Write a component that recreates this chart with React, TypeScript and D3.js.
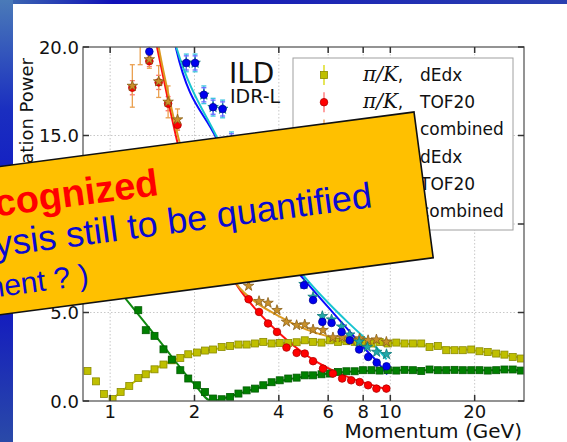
import React from 'react';
import * as d3 from 'd3';

type Pt = [number, number, number?];

const xTicks = [1, 2, 4, 6, 8, 10, 20];
const yTicks = [0, 5, 10, 15, 20];

// measured points: [momentum (GeV), separation power, error]
const pkDedx: Pt[] = [
  [0.83, 1.7], [0.89, 1.11], [0.95, 0.4], [1.02, 0.11], [1.09, 0.51], [1.17, 0.85], [1.26, 1.3],
  [1.34, 1.51], [1.44, 1.79], [1.55, 2.06], [1.66, 2.3], [1.78, 2.43], [1.9, 2.64], [2.04, 2.74],
  [2.18, 2.85], [2.33, 2.91], [2.5, 3.05], [2.68, 3.11], [2.87, 3.19], [3.07, 3.19], [3.29, 3.25],
  [3.52, 3.34], [3.77, 3.25], [4.03, 3.28], [4.32, 3.28], [4.63, 3.32], [4.95, 3.43], [5.3, 3.34],
  [5.68, 3.3], [6.08, 3.43], [6.51, 3.34], [6.97, 3.38], [7.46, 3.34], [7.99, 3.3], [8.56, 3.25],
  [9.16, 3.34], [9.8, 3.25], [10.5, 3.3], [11.24, 3.25], [12.04, 3.25], [12.89, 3.25], [13.8, 3.05],
  [14.78, 3.11], [15.83, 2.87], [16.95, 2.87], [18.14, 2.87], [19.44, 2.91], [20.8, 2.81],
  [22.27, 2.77], [23.86, 2.68], [25.54, 2.62], [27.35, 2.49], [29.29, 2.4],
];
const kpDedx: Pt[] = [
  [1.26, 5.13], [1.34, 4.0], [1.44, 3.68], [1.55, 2.92], [1.66, 2.34], [1.78, 1.74], [1.9, 1.27],
  [2.04, 0.89], [2.18, 0.51], [2.33, 0.14], [2.5, 0.1], [2.68, 0.23], [2.87, 0.42], [3.07, 0.6],
  [3.29, 0.7], [3.52, 0.89], [3.77, 1.06], [4.03, 1.17], [4.32, 1.27], [4.63, 1.32], [4.95, 1.45],
  [5.3, 1.45], [5.68, 1.51], [6.08, 1.55], [6.51, 1.64], [6.97, 1.68], [7.46, 1.68], [7.99, 1.74],
  [8.56, 1.74], [9.16, 1.72], [9.8, 1.74], [10.5, 1.72], [11.24, 1.76], [12.04, 1.74], [12.89, 1.7],
  [13.8, 1.78], [14.78, 1.74], [15.83, 1.74], [16.95, 1.76], [18.14, 1.74], [19.44, 1.74],
  [20.8, 1.74], [22.27, 1.72], [23.86, 1.74], [25.54, 1.78], [27.35, 1.78], [29.29, 1.72],
];
const pkTof: Pt[] = [
  [1.2, 17.7, 0.4], [1.38, 19.2, 0.3], [1.49, 18.0, 0.4], [1.61, 16.8, 0.4], [1.74, 15.6, 0.3],
  [3.12, 5.75], [3.4, 5.03], [3.66, 4.38], [3.94, 3.9], [4.26, 3.02], [4.63, 2.72], [4.95, 2.68],
  [5.3, 2.25], [5.75, 1.83], [6.24, 1.55], [6.73, 1.27], [7.25, 1.17], [7.77, 1.07], [8.33, 0.89],
  [8.92, 0.7], [9.68, 0.7],
];
const pkComb: Pt[] = [
  [1.2, 17.8, 1.2], [1.28, 20.6, 1.6], [1.38, 19.3, 0.5], [1.49, 18.05, 0.9], [1.61, 16.9, 0.9],
  [1.74, 15.9, 0.6],
  [3.12, 6.5], [3.4, 5.64], [3.66, 5.54], [3.94, 5.13], [4.26, 4.47], [4.63, 4.28], [4.95, 4.32],
  [5.3, 4.04], [5.75, 4.0], [6.24, 3.59], [6.73, 3.59], [7.25, 3.43], [7.77, 3.53], [8.33, 3.43],
  [8.92, 3.47], [9.68, 3.34],
];
const kpTof: Pt[] = [
  [1.38, 19.74, 0.6], [1.87, 19.1, 0.4], [2.01, 19.1, 0.4], [2.16, 17.3, 0.4], [2.33, 16.6, 0.4],
  [2.52, 16.5, 0.4], [2.71, 14.7, 0.4],
  [4.92, 6.54], [5.3, 5.7], [5.72, 4.47], [6.17, 4.41], [6.7, 3.9], [7.16, 3.43], [7.74, 2.91],
  [8.34, 2.49], [8.94, 2.17], [9.69, 1.96],
];
const kpComb: Pt[] = [
  [1.87, 19.1, 0.5], [2.01, 19.1, 0.5], [2.16, 17.3, 0.5], [2.33, 16.6, 0.5], [2.52, 16.5, 0.5],
  [2.71, 14.7, 0.5],
  [4.92, 6.6], [5.3, 5.88], [5.72, 4.79], [6.17, 4.6], [6.7, 4.2], [7.16, 3.75], [7.74, 3.35],
  [8.28, 3.05], [8.94, 2.77], [9.69, 2.64],
];

// fitted curves
const pkDedxFit: Pt[] = [
  [1.0, 0.0], [1.1, 0.55], [1.2, 1.0], [1.35, 1.55], [1.5, 1.95], [1.75, 2.4], [2.0, 2.7],
  [2.5, 3.0], [3.0, 3.15], [4.0, 3.27], [5.0, 3.32], [6.0, 3.34], [8.0, 3.32], [10, 3.27],
  [12, 3.2], [15, 3.05], [20, 2.85], [25, 2.62], [30, 2.42],
];
const kpDedxFit: Pt[] = [
  [0.95, 7.3], [1.15, 5.67], [1.5, 3.39], [2.0, 0.94], [2.3, 0.0], [2.6, 0.2], [3.0, 0.5],
  [3.5, 0.82], [4.0, 1.1], [5.0, 1.4], [6.0, 1.56], [8.0, 1.7], [10, 1.74], [30, 1.74],
];
const pkTofFit: Pt[] = [
  [1.4, 21.7], [1.47, 20.0], [1.6, 17.2], [1.73, 14.75], [2.2, 10.0], [2.86, 6.45], [3.3, 5.2],
  [4.0, 3.85], [5.0, 2.6], [6.0, 1.85], [7.0, 1.38], [8.0, 1.05], [9.6, 0.68],
];
const pkCombFit: Pt[] = [
  [1.42, 22.0], [1.49, 20.0], [1.6, 17.6], [1.75, 14.9], [2.2, 10.3], [2.86, 6.5], [3.3, 5.6],
  [4.0, 4.8], [5.0, 4.05], [6.0, 3.65], [7.0, 3.45], [8.0, 3.35], [9.7, 3.32],
];
const kpTofFit: Pt[] = [
  [1.65, 21.2], [1.72, 19.9], [2.4, 14.8], [3.0, 11.6], [4.0, 8.6], [4.9, 6.9], [6.0, 5.3],
  [7.0, 4.1], [8.0, 3.05], [9.0, 2.2], [9.75, 1.5],
];
const kpCombFit: Pt[] = [
  [1.65, 21.0], [1.727, 19.93], [2.4, 14.93], [3.0, 12.0], [4.0, 8.9], [4.95, 7.0], [6.0, 5.55],
  [7.0, 4.5], [8.0, 3.65], [9.0, 2.95], [9.7, 2.35],
];

const legendMath = ['π/K', 'π/K', 'π/K', 'K/p', 'K/p', 'K/p'];
const legendText = ['dEdx', 'TOF20', 'combined', 'dEdx', 'TOF20', 'combined'];

const SANS = '"DejaVu Sans", sans-serif';
const ARIAL = '"Liberation Sans", Arial, sans-serif';

export default function App() {
  const L = 83, R = 524, T = 47, B = 401;
  const x = d3.scaleLog().domain([0.8, 30]).range([L, R]);
  const y = d3.scaleLinear().domain([0, 20]).range([B, T]);
  const line = d3.line<Pt>().x(d => x(d[0])).y(d => y(d[1])).curve(d3.curveMonotoneX);
  const star = d3.symbol().type(d3.symbolStar).size(34)()!;

  const mark = (kind: string, cx: number, cy: number, fill: string, stroke: string, k: string) => {
    if (kind === 'sq') return <rect key={k} x={cx - 3.5} y={cy - 3.5} width={7} height={7} fill={fill} stroke={stroke} strokeWidth={0.8} />;
    if (kind === 'ci') return <circle key={k} cx={cx} cy={cy} r={3.8} fill={fill} stroke={stroke} strokeWidth={0.8} />;
    return <path key={k} d={star} transform={`translate(${cx},${cy})`} fill={fill} stroke={stroke} strokeWidth={0.8} />;
  };

  const yellow = { data: pkDedx, fit: pkDedxFit, kind: 'sq', fill: '#bfbf00', stroke: '#8a8a00', line: '#c8c800', err: '#d8d800' };
  const green = { data: kpDedx, fit: kpDedxFit, kind: 'sq', fill: '#008000', stroke: '#005a00', line: '#108a10', err: '#008000' };
  const red = { data: pkTof, fit: pkTofFit, kind: 'ci', fill: '#ff0000', stroke: '#b00000', line: '#ff1010', err: '#ff7070' };
  const orange = { data: pkComb, fit: pkCombFit, kind: 'st', fill: '#c8902a', stroke: '#8a6018', line: '#dc9a20', err: '#eaa050' };
  const blue = { data: kpTof, fit: kpTofFit, kind: 'ci', fill: '#0000ee', stroke: '#0000a0', line: '#0a0aff', err: '#6a6aff' };
  const cyan = { data: kpComb, fit: kpCombFit, kind: 'st', fill: '#20a8a8', stroke: '#0e7a7a', line: '#18c4d0', err: '#3cc4e0' };

  const series = [yellow, green, red, orange, cyan, blue];
  const fitOrder = [yellow, green, red, orange, blue, cyan];
  const legendStyle = [yellow, red, orange, green, blue, cyan];

  return (
    <svg width={567} height={442} style={{ position: 'absolute', left: 0, top: 0, display: 'block' }}>
      <defs>
        <linearGradient id="leftBand" x1="0" y1="0" x2="0" y2="1">
          <stop offset="0" stopColor="#4a7ab8" />
          <stop offset="0.25" stopColor="#1a2ec0" />
          <stop offset="0.6" stopColor="#0c0cc6" />
          <stop offset="1" stopColor="#2a4aa8" />
        </linearGradient>
        <linearGradient id="topBand" x1="0" y1="0" x2="1" y2="0">
          <stop offset="0" stopColor="#3f6fb0" />
          <stop offset="0.2" stopColor="#1010b8" />
          <stop offset="1" stopColor="#2a40b0" />
        </linearGradient>
        <clipPath id="plotClip">
          <rect x={L} y={T} width={R - L} height={B - T} />
        </clipPath>
      </defs>

      <rect x={0} y={0} width={567} height={442} fill="#ffffff" />
      <rect x={0} y={0} width={567} height={4} fill="url(#topBand)" />
      <rect x={0} y={0} width={13} height={442} fill="url(#leftBand)" />

      {/* grid */}
      <g stroke="#c8c8c8" strokeWidth={1} strokeDasharray="1.5,2">
        {xTicks.map(t => <line key={'gx' + t} x1={x(t)} x2={x(t)} y1={T} y2={B} />)}
        {yTicks.slice(1, -1).map(t => <line key={'gy' + t} x1={L} x2={R} y1={y(t)} y2={y(t)} />)}
      </g>

      {/* data */}
      <g clipPath="url(#plotClip)">
        {series.map((s, i) => (
          <g key={'e' + i} stroke={s.err} strokeWidth={1.3}>
            {s.data.filter(d => d[2]).map((d, j) => {
              const e = d[2] as number;
              const cx = x(d[0]);
              return (
                <g key={'e' + j}>
                  <line x1={cx} x2={cx} y1={y(d[1] - e)} y2={y(d[1] + e)} />
                  <line x1={cx - 2.5} x2={cx + 2.5} y1={y(d[1] - e)} y2={y(d[1] - e)} />
                  <line x1={cx - 2.5} x2={cx + 2.5} y1={y(d[1] + e)} y2={y(d[1] + e)} />
                </g>
              );
            })}
          </g>
        ))}
        {fitOrder.map((s, i) => (
          <path key={'f' + i} d={line(s.fit) || ''} fill="none" stroke={s.line} strokeWidth={2} />
        ))}
        {series.map((s, i) => (
          <g key={'m' + i}>
            {s.data.map((d, j) => mark(s.kind, x(d[0]), y(d[1]), s.fill, s.stroke, 'm' + j))}
          </g>
        ))}
      </g>

      {/* frame and ticks */}
      <rect x={L} y={T} width={R - L} height={B - T} fill="none" stroke="#5a5a5a" strokeWidth={1.3} />
      <g stroke="#333" strokeWidth={1.5}>
        {xTicks.map(t => (
          <g key={'tx' + t}>
            <line x1={x(t)} x2={x(t)} y1={B} y2={B - 6} />
            <line x1={x(t)} x2={x(t)} y1={T} y2={T + 6} />
          </g>
        ))}
        {yTicks.map(t => (
          <g key={'ty' + t}>
            <line x1={L} x2={L + 6} y1={y(t)} y2={y(t)} />
            <line x1={R} x2={R - 6} y1={y(t)} y2={y(t)} />
          </g>
        ))}
      </g>
      <g fontFamily={SANS} fontSize={18} fill="#111">
        {xTicks.map(t => (
          <text key={'lx' + t} x={x(t)} y={418} textAnchor="middle">{t}</text>
        ))}
        {yTicks.map(t => (
          <text key={'ly' + t} x={79} y={y(t) + 6.5} textAnchor="end">{t.toFixed(1)}</text>
        ))}
      </g>
      <text x={R - 2} y={438} textAnchor="end" fontFamily={SANS} fontSize={20} fill="#111">Momentum (GeV)</text>
      <text transform="translate(33,58) rotate(-90)" textAnchor="end" fontFamily={SANS} fontSize={18} fill="#111">Separation Power</text>

      <text x={229} y={83} fontFamily={SANS} fontSize={28} fill="#111">ILD</text>
      <text x={230} y={103} fontFamily={SANS} fontSize={19} fill="#111">IDR-L</text>

      {/* legend */}
      <rect x={293} y={58} width={220} height={172} fill="#fff" stroke="#a0a0a0" strokeWidth={1} />
      {legendMath.map((m, i) => {
        const ry = 75 + i * 27.2;
        const s = legendStyle[i];
        return (
          <g key={'lg' + i}>
            <line x1={324} x2={324} y1={ry - 10} y2={ry + 10} stroke={s.err} strokeWidth={1.3} />
            {mark(s.kind, 324, ry, s.fill, s.stroke, 'lm' + i)}
            <text x={363} y={ry + 6} fontFamily={SANS} fontSize={17} fill="#111">
              <tspan fontFamily='"DejaVu Serif", serif' fontStyle="italic" fontSize={20}>{m}</tspan>
              <tspan>,</tspan>
              <tspan x={420}>{legendText[i]}</tspan>
            </text>
          </g>
        );
      })}

      {/* overlay note */}
      <g transform="translate(414,112) rotate(-7.5)">
        <rect x={-700} y={0} width={700} height={147} fill="#ffc000" stroke="#111" strokeWidth={1.6} />
        <text x={-263} y={49} textAnchor="end" fontFamily={ARIAL} fontWeight="bold" fontSize={38} fill="#ff0000">Problem recognized</text>
        <text x={-53} y={89} textAnchor="end" fontFamily={ARIAL} fontSize={36} fill="#0a0ad0">Impact on analysis still to be quantified</text>
        <text x={-344} y={129} textAnchor="end" fontFamily={ARIAL} fontSize={30} fill="#0a0ad0">(requires improvement ? )</text>
      </g>
    </svg>
  );
}
